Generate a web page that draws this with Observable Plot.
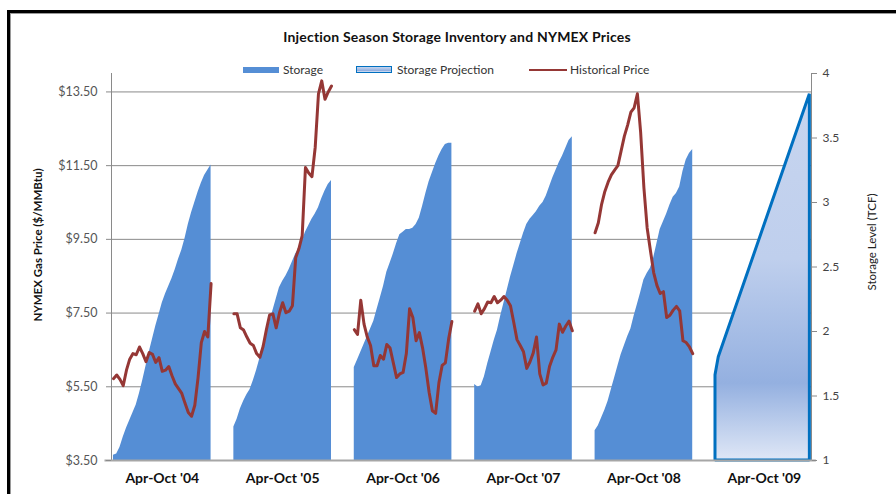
<!DOCTYPE html>
<html>
<head>
<meta charset="utf-8">
<script src="https://cdn.jsdelivr.net/npm/d3@7"></script>
<script src="https://cdn.jsdelivr.net/npm/@observablehq/plot@0.6"></script>
<style>
  body { margin: 0; background: #fff; }
  #wrap { position: relative; width: 896px; height: 494px; overflow: hidden; font-family: Lato, "Open Sans", sans-serif; background: #fff; }
  #frame { position: absolute; left: 7px; top: 10px; width: 1000px; height: 1000px; border-left: 3px solid #000; border-top: 3px solid #000; }
  #frame2 { position: absolute; left: 10px; top: 13px; width: 1000px; height: 1000px; border-left: 1px solid #9a9a9a; border-top: 1px solid #9a9a9a; }
  #chart { position: absolute; left: 0; top: 0; }
  #title { position: absolute; top: 28px; left: 0; width: 914px; text-align: center; font-weight: bold; font-size: 14px; letter-spacing: 0.2px; color: #111; }
  .lg { position: absolute; font-size: 12px; color: #333; top: 62px; white-space: nowrap; }
  .sw { position: absolute; }
  .rot { position: absolute; transform: translate(-50%, -50%) rotate(-90deg); white-space: nowrap; font-size: 11.5px; }
</style>
</head>
<body>
<div id="wrap">
  <div id="frame"></div>
  <div id="frame2"></div>
  <div id="chart"></div>
  <div id="title">Injection Season Storage Inventory and NYMEX Prices</div>
  <div class="sw" style="left:243px;top:67px;width:36px;height:6px;background:#558ed5;"></div>
  <div class="lg" style="left:283px;">Storage</div>
  <div class="sw" style="left:356px;top:66px;width:34px;height:5px;border:1.5px solid #0070c0;background:linear-gradient(#c6d5ef,#94b0e0 70%,#dfe7f6);"></div>
  <div class="lg" style="left:397px;">Storage Projection</div>
  <div class="sw" style="left:529px;top:69px;width:38px;height:2px;background:#953735;"></div>
  <div class="lg" style="left:570px;">Historical Price</div>
  <div class="rot" style="left:37px;top:245px;font-weight:bold;color:#111;">NYMEX Gas Price ($/MMBtu)</div>
  <div class="rot" style="left:871px;top:242px;color:#222;">Storage Level (TCF)</div>
</div>
<script>
// ---- data ----
const seasons = ["Apr-Oct '04", "Apr-Oct '05", "Apr-Oct '06", "Apr-Oct '07", "Apr-Oct '08", "Apr-Oct '09"];
const weeksPerSeason = 31;
const gapWeeks = 6;

// Storage inventory, TCF (weekly, Apr-Oct)
const storage04 = [1.04,1.05,1.10,1.18,1.25,1.31,1.37,1.43,1.52,1.62,1.73,1.84,1.94,2.04,2.13,2.22,2.29,2.35,2.41,2.48,2.56,2.63,2.72,2.83,2.92,3.00,3.08,3.15,3.21,3.25,3.29];
const storage05 = [1.26,1.32,1.40,1.46,1.51,1.55,1.62,1.70,1.79,1.89,1.97,2.07,2.16,2.25,2.34,2.39,2.43,2.48,2.54,2.60,2.64,2.70,2.77,2.82,2.87,2.91,2.96,3.03,3.09,3.14,3.17];
const storage06 = [1.72,1.78,1.84,1.90,1.96,2.02,2.08,2.17,2.26,2.35,2.46,2.53,2.60,2.68,2.75,2.77,2.79,2.79,2.80,2.83,2.88,2.97,3.07,3.16,3.23,3.30,3.36,3.41,3.45,3.46,3.46];
const storage07 = [1.59,1.57,1.58,1.65,1.75,1.84,1.93,2.01,2.12,2.22,2.32,2.42,2.51,2.60,2.68,2.76,2.83,2.87,2.90,2.93,2.97,3.00,3.05,3.12,3.19,3.25,3.31,3.36,3.42,3.48,3.51];
const storage08 = [1.23,1.27,1.33,1.39,1.46,1.55,1.64,1.73,1.82,1.89,1.96,2.02,2.12,2.21,2.30,2.40,2.45,2.49,2.57,2.68,2.79,2.85,2.91,2.98,3.04,3.07,3.12,3.24,3.33,3.38,3.41];

// Storage projection for 2009 (week in season, TCF)
const projWeeks  = [0, 1, 29];
const projValues = [1.66, 1.80, 3.84];

// Historical NYMEX price, $/MMBtu (weekly)
const price04 = [5.72,5.82,5.70,5.53,5.95,6.25,6.40,6.37,6.58,6.40,6.18,6.43,6.38,6.16,6.29,5.92,5.95,6.05,5.80,5.58,5.45,5.32,5.05,4.80,4.70,5.00,5.75,6.70,7.00,6.85,8.30];
const price05 = [7.48,7.48,7.10,7.04,6.85,6.68,6.62,6.40,6.30,6.60,7.05,7.45,7.48,7.10,7.50,7.78,7.51,7.55,7.70,9.00,9.25,9.60,11.45,11.30,11.20,12.00,13.45,13.80,13.30,13.50,13.66];
const price06 = [7.05,6.92,7.85,7.20,6.85,6.62,6.07,6.07,6.35,6.25,6.65,6.55,6.15,5.75,5.85,5.89,6.40,7.62,7.38,6.75,6.97,6.55,6.00,5.35,4.85,4.78,5.60,6.08,6.15,6.80,7.27];
const price07 = [7.55,7.75,7.48,7.62,7.80,7.78,7.95,7.78,7.85,7.95,7.85,7.70,7.25,6.78,6.62,6.45,6.00,6.18,6.42,6.85,5.85,5.55,5.60,6.05,6.30,6.50,7.20,6.98,7.15,7.28,7.02];
const price08 = [9.68,9.95,10.45,10.80,11.05,11.25,11.38,11.50,11.90,12.30,12.60,12.95,13.07,13.45,12.40,10.90,9.81,9.20,8.60,8.25,8.03,8.08,7.38,7.44,7.58,7.68,7.56,6.75,6.70,6.58,6.40];

// Axis ticks
const priceTicks = [3.5, 5.5, 7.5, 9.5, 11.5, 13.5];
const storageTicks = [1, 1.5, 2, 2.5, 3, 3.5, 4];
const priceDomain = [3.5, 14];
const storageDomain = [1, 4];

// ---- build tables ----
const period = weeksPerSeason + gapWeeks;
const storageSeries = [storage04, storage05, storage06, storage07, storage08];
const priceSeries = [price04, price05, price06, price07, price08];
const storageRows = storageSeries.flatMap((arr, s) => arr.map((v, w) => ({x: s * period + w, v, s})));
const priceRows = priceSeries.flatMap((arr, s) => arr.map((p, w) => ({x: s * period + w, p, s})));
const projRows = projWeeks.map((w, i) => ({x: 5 * period + w, v: projValues[i]}));

// map price onto the storage (right) scale
const k = (storageDomain[1] - storageDomain[0]) / (priceDomain[1] - priceDomain[0]);
const priceToY = p => storageDomain[0] + (p - priceDomain[0]) * k;
const yToPrice = y => priceDomain[0] + (y - storageDomain[0]) / k;

const xMin = -0.6, xMax = 5 * period + weeksPerSeason - 1.5;

const chart = Plot.plot({
  width: 896,
  height: 494,
  marginLeft: 111,
  marginRight: 85,
  marginTop: 73,
  marginBottom: 34,
  style: {fontFamily: "Lato, 'Open Sans', sans-serif", fontSize: "12px", background: "transparent", overflow: "visible"},
  x: {domain: [xMin, xMax], axis: null},
  y: {domain: storageDomain, axis: null},
  marks: [
    Plot.gridY(priceTicks.map(priceToY), {stroke: "#8a8a8a", strokeOpacity: 1, strokeWidth: 1}),
    Plot.areaY(storageRows, {x: "x", y1: storageDomain[0], y2: "v", z: "s", fill: "#558ed5"}),
    Plot.areaY(projRows, {x: "x", y1: storageDomain[0], y2: "v", fill: "url(#projGrad)", stroke: "#0070c0", strokeWidth: 3, strokeLinejoin: "miter"}),
    Plot.lineY(priceRows, {x: "x", y: d => priceToY(d.p), z: "s", stroke: "#953735", strokeWidth: 3, strokeLinejoin: "round", strokeLinecap: "round"}),
    Plot.ruleX([xMin], {stroke: "#8a8a8a", strokeWidth: 1}),
    Plot.ruleX([xMax], {stroke: "#8a8a8a", strokeWidth: 1}),
    Plot.ruleY([storageDomain[0]], {x1: xMin - 2, x2: xMax + 1.5, stroke: "#a6a6a6", strokeWidth: 2}),
    Plot.axisY({anchor: "left", ticks: priceTicks.map(priceToY), tickFormat: v => "$" + yToPrice(v).toFixed(2), tickSize: 5, tickPadding: 9, stroke: "#8a8a8a", fill: "#555", fontSize: 12.5, label: null}),
    Plot.axisY({anchor: "right", ticks: storageTicks, tickFormat: d => String(d), tickSize: 5, tickPadding: 6, stroke: "#8a8a8a", fill: "#444", fontSize: 12, label: null}),
    Plot.text(seasons, {x: (d, i) => i * period + (weeksPerSeason - 1) / 2, y: storageDomain[0], text: d => d, dy: 18, fontWeight: "bold", fontSize: 14, fill: "#111"})
  ]
});

const defs = d3.select(chart).insert("defs", ":first-child");
const grad = defs.append("linearGradient").attr("id", "projGrad").attr("x1", 0).attr("y1", 0).attr("x2", 0).attr("y2", 1);
grad.append("stop").attr("offset", "0").attr("stop-color", "#c7d5ef");
grad.append("stop").attr("offset", "0.45").attr("stop-color", "#bfcfed");
grad.append("stop").attr("offset", "0.79").attr("stop-color", "#94b0e0");
grad.append("stop").attr("offset", "1").attr("stop-color", "#dfe7f6");

document.getElementById("chart").appendChild(chart);
</script>
</body>
</html>
